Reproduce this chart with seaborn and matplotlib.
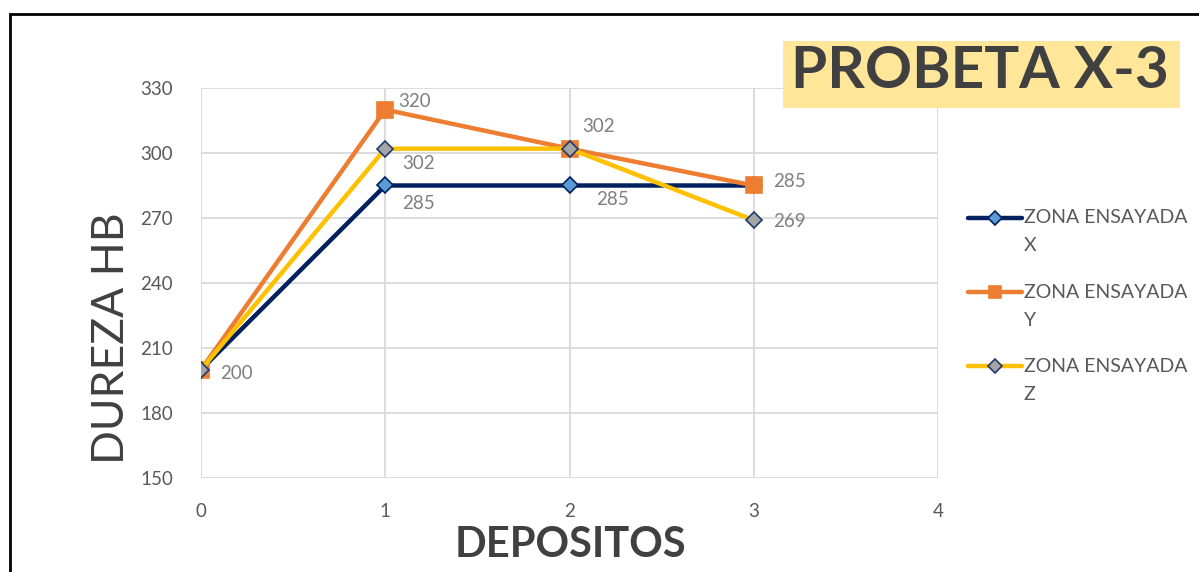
import matplotlib
matplotlib.use("Agg")
import matplotlib.pyplot as plt
import seaborn as sns
import pandas as pd
from matplotlib.lines import Line2D
from matplotlib.patches import Rectangle

# Hardness readings per deposit count
depositos = [0, 1, 2, 3]
zona_x = [200, 285, 285, 285]
zona_y = [200, 320, 302, 285]
zona_z = [200, 302, 302, 269]
series_names = ["ZONA ENSAYADA X", "ZONA ENSAYADA Y", "ZONA ENSAYADA Z"]
y_ticks = [150, 180, 210, 240, 270, 300, 330]
x_ticks = [0, 1, 2, 3, 4]

sns.set_theme(style="whitegrid")
plt.rcParams["font.family"] = ["Lato", "DejaVu Sans"]

df = pd.DataFrame({
    "DEPOSITOS": depositos * 3,
    "DUREZA": zona_x + zona_y + zona_z,
    "ZONA": [series_names[0]] * 4 + [series_names[1]] * 4 + [series_names[2]] * 4,
})

W, H = 1199, 572
fig = plt.figure(figsize=(W / 100, H / 100), dpi=100)
ax = fig.add_axes([201 / W, 1 - 478 / H, 737 / W, 390 / H])

styles = {
    series_names[0]: dict(color="#002060", marker="D", mfc="#5B9BD5", mec="#002060", ms=8),
    series_names[1]: dict(color="#ED7D31", marker="s", mfc="#ED7D31", mec="#ED7D31", ms=11),
    series_names[2]: dict(color="#FFC000", marker="D", mfc="#A5A5A5", mec="#1F3A6E", ms=8),
}
for name in series_names:
    st = styles[name]
    sub = df[df["ZONA"] == name]
    sns.lineplot(data=sub, x="DEPOSITOS", y="DUREZA", ax=ax, color=st["color"],
                 linewidth=3.2, marker=st["marker"], markersize=st["ms"],
                 markerfacecolor=st["mfc"], markeredgecolor=st["mec"],
                 markeredgewidth=1.2, legend=False, zorder=3)

ax.set_xlim(0, 4)
ax.set_ylim(150, 330)
ax.set_xticks(x_ticks)
ax.set_yticks(y_ticks)
ax.grid(True, color="#D9D9D9", linewidth=1.3)
for s in ax.spines.values():
    s.set_visible(False)
ax.tick_params(axis="both", length=0, labelsize=13.5, labelcolor="#595959")
ax.tick_params(axis="x", pad=18)
ax.tick_params(axis="y", pad=20)
ax.set_xlabel("DEPOSITOS", fontsize=30, fontweight="bold", color="#404040")
ax.set_ylabel("DUREZA HB", fontsize=32, color="#404040")
ax.xaxis.set_label_coords(0.5007, -0.172)
ax.yaxis.set_label_coords(-0.121, 0.359)
ax.xaxis.label.set_va("center")
ax.yaxis.label.set_va("center")

# Point value labels
lab = dict(fontsize=13.5, color="#7F7F7F")
ax.annotate(str(zona_x[0]), (0, zona_x[0]), xytext=(14, -7), textcoords="offset points", **lab)
ax.annotate(str(zona_y[1]), (1, zona_y[1]), xytext=(9, 2), textcoords="offset points", **lab)
ax.annotate(str(zona_z[1]), (1, zona_z[1]), xytext=(12, -15), textcoords="offset points", **lab)
ax.annotate(str(zona_x[1]), (1, zona_x[1]), xytext=(12, -17), textcoords="offset points", **lab)
ax.annotate(str(zona_y[2]), (2, zona_y[2]), xytext=(9, 12), textcoords="offset points", **lab)
ax.annotate(str(zona_x[2]), (2, zona_x[2]), xytext=(19, -14), textcoords="offset points", **lab)
ax.annotate(str(zona_y[3]), (3, zona_y[3]), xytext=(14, -1), textcoords="offset points", **lab)
ax.annotate(str(zona_z[3]), (3, zona_z[3]), xytext=(14, -5), textcoords="offset points", **lab)

# Legend at the right: handle beside the first line of each wrapped label
legend_rows = [218, 292, 366]
for name, row in zip(series_names, legend_rows):
    st = styles[name]
    yf = 1 - row / H
    fig.add_artist(Line2D([968 / W, 1022 / W], [yf, yf], transform=fig.transFigure,
                          color=st["color"], lw=3.2))
    fig.add_artist(Line2D([995 / W], [yf], transform=fig.transFigure,
                          marker=st["marker"], ms=st["ms"] * 0.85, mfc=st["mfc"],
                          mec=st["mec"], mew=1.2, lw=0))
    first, last = name.rsplit(" ", 1)
    fig.text(1024 / W, yf, first, ha="left", va="center", fontsize=14, color="#595959")
    fig.text(1024 / W, 1 - (row + 28) / H, last, ha="left", va="center",
             fontsize=14, color="#595959")

# Title box
fig.patches.append(Rectangle((783 / W, 1 - 108 / H), 397 / W, 67 / H,
                             transform=fig.transFigure, facecolor="#FFE699",
                             edgecolor="none", zorder=5))
fig.text(980 / W, 1 - 72 / H, "PROBETA X-3", ha="center", va="center",
         fontsize=42, fontweight="bold", color="#404040", zorder=6)

# Outer frame
fig.patches.append(Rectangle((10 / W, -0.05), 1.2, 1 - 14 / H + 0.05,
                             transform=fig.transFigure, facecolor="none",
                             edgecolor="#000000", linewidth=2, zorder=7))

fig.savefig("out.png", dpi=100)
